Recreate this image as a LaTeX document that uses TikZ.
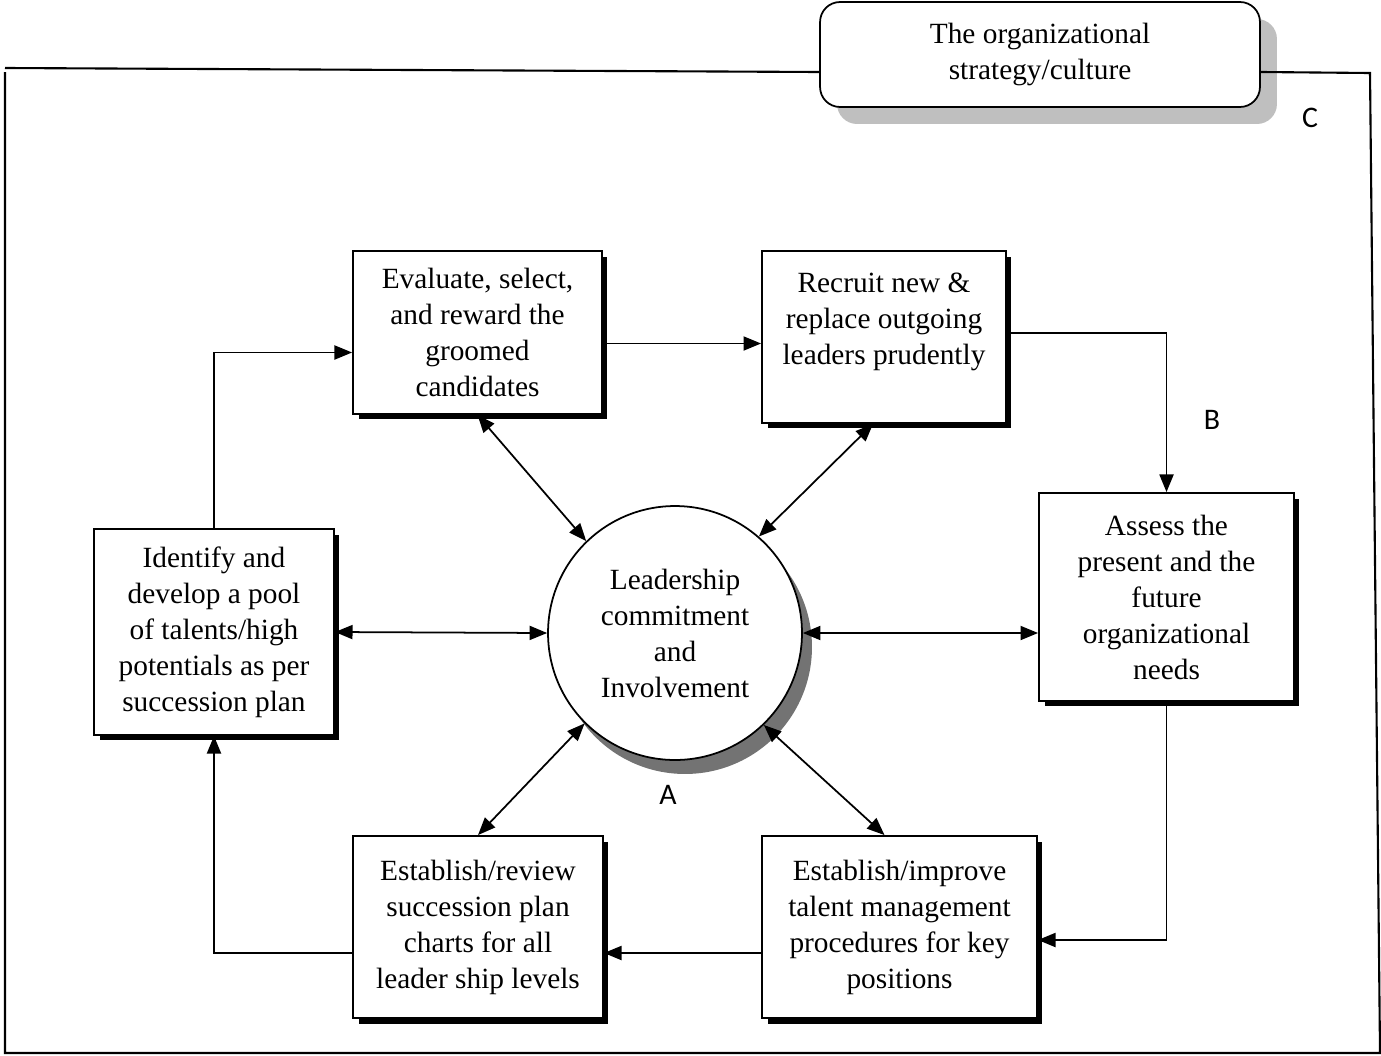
\documentclass[tikz,border=0pt]{standalone}
\usepackage{fontspec}
\setmainfont{Liberation Serif}
\newfontfamily\lblfont{Carlito}
\usepackage{tikz}
\usetikzlibrary{shadows}
\usetikzlibrary{arrows.meta}
\tikzset{
    stepbox/.style = {rectangle, line width=1.1pt, draw=black, fill=white, align=center, inner sep=2pt,
        font=\fontsize{16.7}{20.5}\selectfont,
        drop shadow={shadow xshift=0.11cm, shadow yshift=-0.11cm, fill=black, opacity=1}},
    corenode/.style = {circle, line width=1pt, draw=black, fill=white, align=center, inner sep=0pt,
        minimum size=5.08cm, font=\fontsize{16.7}{20.5}\selectfont,
        drop shadow={shadow xshift=0.2cm, shadow yshift=-0.28cm, fill=black!55, opacity=1}},
    orgnode/.style = {rectangle, rounded corners=0.4cm, line width=1pt, draw=black, fill=white, align=center,
        minimum width=8.8cm, minimum height=2.1cm, font=\fontsize{16.7}{20.5}\selectfont,
        drop shadow={shadow xshift=0.34cm, shadow yshift=-0.34cm, fill=black!25, opacity=1}},
    letter/.style = {font=\lblfont\fontsize{17}{19}\selectfont},
    edgen/.style = {-{Triangle[length=10pt,width=8pt]}, line width=1pt},
    edgeb/.style = {{Triangle[length=10pt,width=8pt]}-{Triangle[length=10pt,width=8pt]}, line width=1pt},
    framen/.style = {line width=1.2pt},
}

\begin{document}
\begin{tikzpicture}[x=0.02cm, y=-0.02cm]
\useasboundingbox (0,0) rectangle (1381,1055);
\node[orgnode] at (1040, 54.5) (org) {The organizational\\ strategy/culture};
\node[corenode] at (675, 633) (lead) {Leadership\\ commitment\\ and\\ Involvement};
\node[stepbox, minimum width=4.98cm, minimum height=3.26cm] at (477.5, 332.5) (eval) {Evaluate, select,\\ and reward the\\ groomed\\ candidates};
\node[stepbox, minimum width=4.88cm, minimum height=3.44cm] at (884, 337) (recruit) {Recruit new \&\\ replace outgoing\\ leaders prudently\\ \mbox{}};
\node[stepbox, minimum width=5.10cm, minimum height=4.16cm] at (1166.5, 597) (assess) {Assess the\\ present and the\\ future\\ organizational\\ needs};
\node[stepbox, minimum width=5.50cm, minimum height=3.64cm] at (899.5, 927) (improve) {Establish/improve\\ talent management\\ procedures for key\\ positions};
\node[stepbox, minimum width=5.00cm, minimum height=3.64cm] at (478, 927) (review) {Establish/review\\ succession plan\\ charts for all\\ leader ship levels};
\node[stepbox, minimum width=4.80cm, minimum height=4.12cm] at (214, 632) (ident) {Identify and\\ develop a pool\\ of talents/high\\ potentials as per\\ succession plan};
\node[letter] at (668, 795) (la) {A};
\node[letter] at (1212, 420) (lb) {B};
\node[letter] at (1310, 118) (lc) {C};
%
\draw[framen] (5,68) -- ([yshift=-0.35cm]org.west);
\draw[framen] ([yshift=-0.35cm]org.east) -- (1370,73) -- (1380,1053) -- (5,1053) -- (5,72);
%
\draw[edgen] (ident.north) |- ([yshift=-0.4cm]eval.west);
\draw[edgen] ([yshift=-0.22cm]eval.east) -- ([yshift=-0.22cm]eval.east -| recruit.west);
\draw[edgen] ([yshift=0.08cm]recruit.east) -| (assess.north);
\draw[edgen] (assess.south) |- ([yshift=-0.26cm]improve.east);
\draw[edgen] ([yshift=-0.52cm]improve.west) -- ([yshift=-0.52cm]review.east);
\draw[edgen] ([yshift=-0.52cm]review.west) -| (ident.south);
%
\draw[edgeb] (eval.south) -- (lead.134);
\draw[edgeb] ([xshift=-0.22cm]recruit.south) -- (lead.49);
\draw[edgeb] (ident.east) -- (lead.west);
\draw[edgeb] (lead.east) -- (lead.east -| assess.west);
\draw[edgeb] (lead.225) -- (review.north);
\draw[edgeb] (lead.314) -- ([xshift=-0.3cm]improve.north);
\end{tikzpicture}
\end{document}
